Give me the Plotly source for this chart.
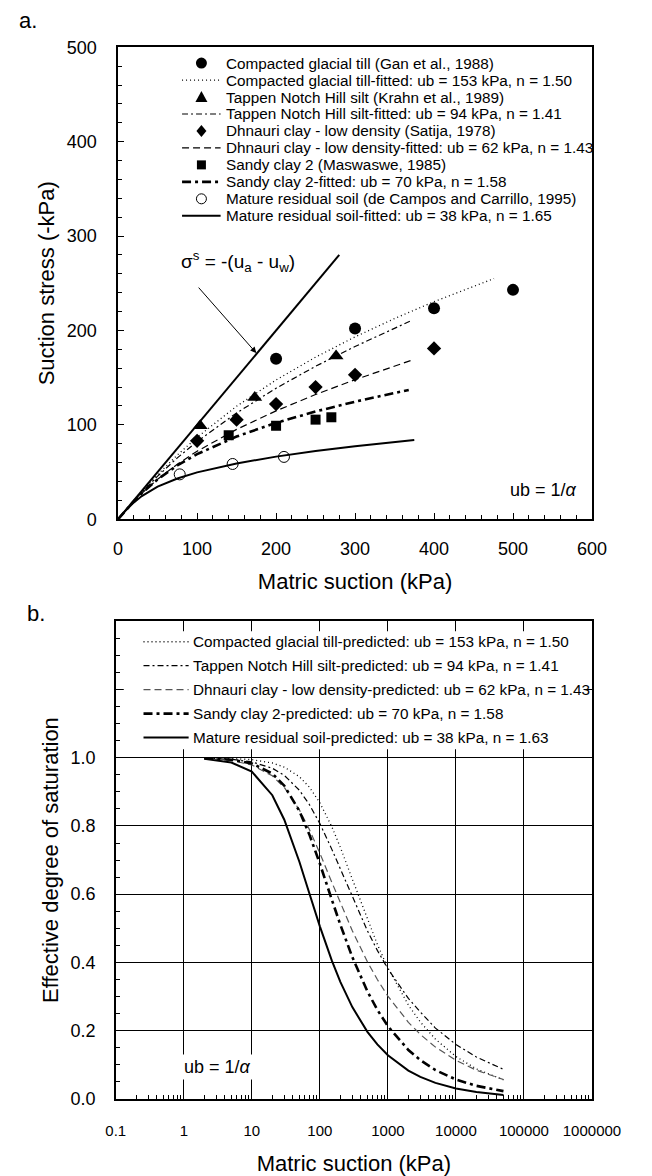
import plotly.graph_objects as go

W, H = 652, 1176
FONT = "Liberation Sans, Arial, sans-serif"


def px(x):
    return x / W


def py(y):
    return 1 - y / H


# ---------------- Panel a data ----------------
glacial_x = [200, 300, 400, 500]
glacial_y = [170, 202, 223.5, 243]
tappen_x = [104, 173, 276]
tappen_y = [99, 129, 173]
dhnauri_x = [100, 150, 200, 250, 300, 400]
dhnauri_y = [83, 105.5, 122, 140, 153, 181]
sandy_x = [140, 200, 250, 270]
sandy_y = [89, 99, 105.5, 108]
mature_x = [78, 145, 210]
mature_y = [47.5, 58.5, 66]

glacial_fit_x = [0, 5, 10, 20, 30, 50, 75, 100, 150, 200, 250, 300, 350, 400, 476]
glacial_fit_y = [0, 4.99, 9.95, 19.7, 29.2, 47.2, 68.0, 86.8, 119.7, 147.5, 171.7, 193.2, 212.6, 230.5, 255]
tappen_fit_x = [0, 5, 10, 20, 30, 50, 75, 100, 150, 200, 250, 300, 370]
tappen_fit_y = [0, 4.98, 9.88, 19.4, 28.6, 45.6, 65.0, 82.3, 112.5, 138.8, 162.0, 183.0, 210]
dhnauri_fit_x = [0, 5, 10, 20, 30, 50, 75, 100, 150, 200, 250, 300, 372]
dhnauri_fit_y = [0, 4.96, 9.79, 18.9, 27.4, 42.4, 58.3, 72.0, 95.2, 114.8, 132.1, 147.8, 168.5]
sandy_fit_x = [0, 5, 10, 20, 30, 50, 75, 100, 150, 200, 250, 300, 368]
sandy_fit_y = [0, 4.97, 9.84, 19.1, 27.5, 42.2, 57.0, 68.9, 87.6, 102.1, 114.1, 124.5, 137]
mature_fit_x = [0, 5, 10, 20, 30, 50, 75, 100, 150, 200, 250, 300, 375]
mature_fit_y = [0, 4.93, 9.60, 17.8, 24.5, 34.5, 43.1, 49.6, 59.1, 66.3, 72.2, 77.3, 83.9]

suction_line_x = [0, 280]
suction_line_y = [0, 280]

# ---------------- Panel b data ----------------
psi = [2, 5, 10, 20, 30, 50, 70, 100, 150, 200, 300, 500, 700, 1000, 2000, 3000, 5000, 10000, 20000, 50000]
se_glacial = [0.9995, 0.998, 0.9945, 0.9847, 0.9726, 0.9445, 0.914, 0.8681, 0.7977, 0.7373, 0.6439, 0.5251,
              0.4526, 0.3836, 0.2746, 0.2250, 0.1746, 0.1236, 0.0874, 0.0553]
se_tappen = [0.9987, 0.9954, 0.988, 0.9694, 0.9484, 0.9048, 0.863, 0.8069, 0.7313, 0.6732, 0.5901, 0.4925,
             0.435, 0.381, 0.294, 0.254, 0.207, 0.159, 0.122, 0.086]
se_dhnauri = [0.9978, 0.9919, 0.9789, 0.947, 0.9128, 0.8473, 0.790, 0.72, 0.6346, 0.5739, 0.4926, 0.4015,
              0.3494, 0.3008, 0.224, 0.1884, 0.1513, 0.1124, 0.0834, 0.0562]
se_sandy = [0.9987, 0.9944, 0.9836, 0.9536, 0.9181, 0.8439, 0.7753, 0.6893, 0.5837, 0.5103, 0.4151, 0.3146,
            0.2605, 0.2127, 0.1428, 0.113, 0.084, 0.0562, 0.0376, 0.0221]
se_mature = [0.9968, 0.9862, 0.9593, 0.8902, 0.8183, 0.6949, 0.6027, 0.5055, 0.4049, 0.3426, 0.2685, 0.1961,
             0.159, 0.1272, 0.0823, 0.0638, 0.0462, 0.0299, 0.0193, 0.0108]

b_xticks = [0.1, 1, 10, 100, 1000, 10000, 100000, 1000000]
b_xticktext = ["0.1", "1", "10", "100", "1000", "10000", "100000", "1000000"]
b_yticks = [0, 0.2, 0.4, 0.6, 0.8, 1.0, 1.2]
b_yticktext = ["0.0", "0.2", "0.4", "0.6", "0.8", "1.0", " "]

legend_a = [
    "Compacted glacial till (Gan et al., 1988)",
    "Compacted glacial till-fitted: ub = 153 kPa, n = 1.50",
    "Tappen Notch Hill silt (Krahn et al., 1989)",
    "Tappen Notch Hill silt-fitted: ub = 94 kPa, n = 1.41",
    "Dhnauri clay - low density (Satija, 1978)",
    "Dhnauri clay - low density-fitted: ub = 62 kPa, n = 1.43",
    "Sandy clay 2 (Maswaswe, 1985)",
    "Sandy clay 2-fitted: ub = 70 kPa, n = 1.58",
    "Mature residual soil (de Campos and Carrillo, 1995)",
    "Mature residual soil-fitted: ub = 38 kPa, n = 1.65",
]
legend_b = [
    "Compacted glacial till-predicted: ub = 153 kPa, n = 1.50",
    "Tappen Notch Hill silt-predicted: ub = 94 kPa, n = 1.41",
    "Dhnauri clay - low density-predicted: ub = 62 kPa, n = 1.43",
    "Sandy clay 2-predicted: ub = 70 kPa, n = 1.58",
    "Mature residual soil-predicted: ub = 38 kPa, n = 1.63",
]

# ---------------- styles ----------------
S_DOT = dict(color="black", width=1.3, dash="1px,3px")
S_DASHDOT = dict(color="black", width=1.2, dash="6px,3px,2px,3px")
S_DASH = dict(color="black", width=1.2, dash="7px,4px")
S_DASH_B = dict(color="#555555", width=1.2, dash="7px,4px")
S_HEAVY = dict(color="black", width=2.6, dash="9px,4px,3px,4px")
S_SOLID = dict(color="black", width=2)

fig = go.Figure()

# Panel a lines
fig.add_trace(go.Scatter(x=suction_line_x, y=suction_line_y, mode="lines", line=dict(color="black", width=2),
                         name="Suction stress = matric suction", xaxis="x", yaxis="y"))
fig.add_trace(go.Scatter(x=glacial_fit_x, y=glacial_fit_y, mode="lines", line=S_DOT, name=legend_a[1]))
fig.add_trace(go.Scatter(x=tappen_fit_x, y=tappen_fit_y, mode="lines", line=S_DASHDOT, name=legend_a[3]))
fig.add_trace(go.Scatter(x=dhnauri_fit_x, y=dhnauri_fit_y, mode="lines", line=S_DASH, name=legend_a[5]))
fig.add_trace(go.Scatter(x=sandy_fit_x, y=sandy_fit_y, mode="lines", line=S_HEAVY, name=legend_a[7]))
fig.add_trace(go.Scatter(x=mature_fit_x, y=mature_fit_y, mode="lines", line=S_SOLID, name=legend_a[9]))

# Panel a markers
fig.add_trace(go.Scatter(x=glacial_x, y=glacial_y, mode="markers", name=legend_a[0],
                         marker=dict(symbol="circle", size=12, color="black")))
fig.add_trace(go.Scatter(x=tappen_x, y=tappen_y, mode="markers", name=legend_a[2],
                         marker=dict(symbol="triangle-up", size=13, color="black")))
fig.add_trace(go.Scatter(x=dhnauri_x, y=dhnauri_y, mode="markers", name=legend_a[4],
                         marker=dict(symbol="diamond", size=11, color="black")))
fig.add_trace(go.Scatter(x=sandy_x, y=sandy_y, mode="markers", name=legend_a[6],
                         marker=dict(symbol="square", size=10, color="black")))
fig.add_trace(go.Scatter(x=mature_x, y=mature_y, mode="markers", name=legend_a[8],
                         marker=dict(symbol="circle-open", size=11, color="black", line=dict(width=1))))

# Panel b lines
for se, st, nm in [(se_glacial, S_DOT, legend_b[0]), (se_tappen, S_DASHDOT, legend_b[1]),
                   (se_dhnauri, S_DASH_B, legend_b[2]), (se_sandy, S_HEAVY, legend_b[3]),
                   (se_mature, S_SOLID, legend_b[4])]:
    fig.add_trace(go.Scatter(x=psi, y=se, mode="lines", line=st, name=nm, xaxis="x2", yaxis="y2"))

for tr in fig.data:
    tr.showlegend = False
    tr.hoverinfo = "skip"

# ---------------- layout ----------------
tickfont = dict(family=FONT, size=18, color="black")
titlefont = dict(family=FONT, size=22, color="black")

axis_common = dict(showline=True, linecolor="black", linewidth=1.5, mirror=True, zeroline=False,
                   ticks="inside", ticklen=6, tickcolor="black", tickfont=tickfont)

fig.update_layout(
    width=W, height=H, autosize=False,
    margin=dict(l=0, r=0, t=0, b=0, pad=0),
    paper_bgcolor="white", plot_bgcolor="white",
    showlegend=False,
    font=dict(family=FONT, color="black"),
    xaxis=dict(domain=[px(115), px(619)], range=[0, 600], dtick=100, anchor="y", showgrid=False,
               minor=dict(dtick=20, ticks="inside", ticklen=4, tickcolor="black", showgrid=False),
               ticklabelstandoff=12,
               title=dict(text="Matric suction (kPa)", font=titlefont, standoff=16),
               **axis_common),
    yaxis=dict(domain=[py(518), py(38)], range=[0, 500], dtick=100, anchor="x", showgrid=False,
               minor=dict(dtick=20, ticks="inside", ticklen=4, tickcolor="black", showgrid=False),
               ticklabelstandoff=16,
               title=dict(text="Suction stress (-kPa)", font=titlefont, standoff=6),
               **axis_common),
    xaxis2=dict(domain=[px(112.5), px(619)], type="log", range=[-1, 6], tickmode="array",
                tickvals=b_xticks, ticktext=b_xticktext, anchor="y2",
                showgrid=True, gridcolor="black", gridwidth=1,
                minor=dict(dtick="D1", ticks="inside", ticklen=4, tickcolor="black", showgrid=False),
                ticklabelstandoff=18,
                title=dict(text="Matric suction (kPa)", font=titlefont, standoff=20),
                **{**axis_common, "tickfont": dict(family=FONT, size=15, color="black")}),
    yaxis2=dict(domain=[py(1107.5), py(622)], range=[0, 1.4], tickmode="array", tickvals=b_yticks,
                ticktext=b_yticktext, anchor="x2", showgrid=True, gridcolor="black", gridwidth=1,
                minor=dict(dtick=0.05, ticks="inside", ticklen=4, tickcolor="black", showgrid=False),
                ticklabelstandoff=15,
                title=dict(text="Effective degree of saturation", font=titlefont, standoff=6),
                **axis_common),
)

shapes = []
annotations = []

# ----- Panel a manual legend -----
row0_a, dy_a = 54.0, 17.26
sample_a = [
    ("marker", "circle"), ("line", S_DOT), ("marker", "triangle"), ("line", S_DASHDOT),
    ("marker", "diamond"), ("line", S_DASH), ("marker", "square"), ("line", S_HEAVY),
    ("marker", "open"), ("line", S_SOLID),
]
mx = px(203.6)
for i, (kind, st) in enumerate(sample_a):
    yy = py(row0_a + i * dy_a)
    if kind == "line":
        shapes.append(dict(type="line", xref="paper", yref="paper", x0=px(183), x1=px(224), y0=yy, y1=yy,
                           line=st))
    else:
        base = dict(xref="paper", yref="paper", xsizemode="pixel", ysizemode="pixel", xanchor=mx, yanchor=yy)
        if st == "circle":
            shapes.append(dict(type="circle", x0=-5.5, x1=5.5, y0=-5.5, y1=5.5, fillcolor="black",
                               line=dict(width=0), **base))
        elif st == "open":
            shapes.append(dict(type="circle", x0=-5, x1=5, y0=-5, y1=5, fillcolor="white",
                               line=dict(color="black", width=1), **base))
        elif st == "square":
            shapes.append(dict(type="rect", x0=-4.5, x1=4.5, y0=-4.5, y1=4.5, fillcolor="black",
                               line=dict(width=0), **base))
        elif st == "triangle":
            shapes.append(dict(type="path", path="M -6,-5 L 6,-5 L 0,6 Z", fillcolor="black",
                               line=dict(width=0), **base))
        elif st == "diamond":
            shapes.append(dict(type="path", path="M 0,-6 L 5,0 L 0,6 L -5,0 Z", fillcolor="black",
                               line=dict(width=0), **base))
    annotations.append(dict(xref="paper", yref="paper", x=px(228), y=yy, xanchor="left", yanchor="middle",
                            text=legend_a[i], showarrow=False, font=dict(family=FONT, size=15.3, color="black")))

# ----- Panel b legend background + manual legend -----
shapes.append(dict(type="rect", xref="paper", yref="paper", x0=px(121), x1=px(610), y0=py(752), y1=py(632),
                   fillcolor="white", line=dict(width=0), layer="above"))
row0_b, dy_b = 642.7, 24.35
sample_b = [S_DOT, S_DASHDOT, S_DASH_B, S_HEAVY, S_SOLID]
for i, st in enumerate(sample_b):
    yy = py(row0_b + i * dy_b)
    shapes.append(dict(type="line", xref="paper", yref="paper", x0=px(142), x1=px(190), y0=yy, y1=yy,
                       line=st))
    annotations.append(dict(xref="paper", yref="paper", x=px(192), y=yy, xanchor="left", yanchor="middle",
                            text=legend_b[i], showarrow=False, font=dict(family=FONT, size=15.3, color="black")))

# ----- other annotations -----
C = dict(xref="paper", yref="paper", xanchor="center", yanchor="middle", showarrow=False)
annotations += [
    dict(x=px(19), y=py(11), text="a.", font=dict(family=FONT, size=22, color="black"), **C),
    dict(x=px(27.5), y=py(614), text="b.", font=dict(family=FONT, size=22, color="black"), **C),
    dict(x=px(243), y=py(256), text="σ<sup>s</sup> = -(u<sub>a</sub> - u<sub>w</sub>)",
         font=dict(family=FONT, size=19, color="black"), **C),
    dict(xref="x", yref="y", x=175, y=176, ax=-59, ay=-67, text="", showarrow=True, arrowhead=2,
         arrowsize=1.2, arrowwidth=1, arrowcolor="black"),
    dict(x=px(567), y=py(488), text="ub = 1/<i>α</i>", font=dict(family=FONT, size=18, color="black"), **C),
    dict(x=px(221), y=py(1075), text="ub = 1/<i>α</i>", bgcolor="white", borderpad=2,
         font=dict(family=FONT, size=18, color="black"), **C),
]

fig.update_layout(shapes=shapes, annotations=annotations)

fig.write_html("out.html", config={"responsive": False})
